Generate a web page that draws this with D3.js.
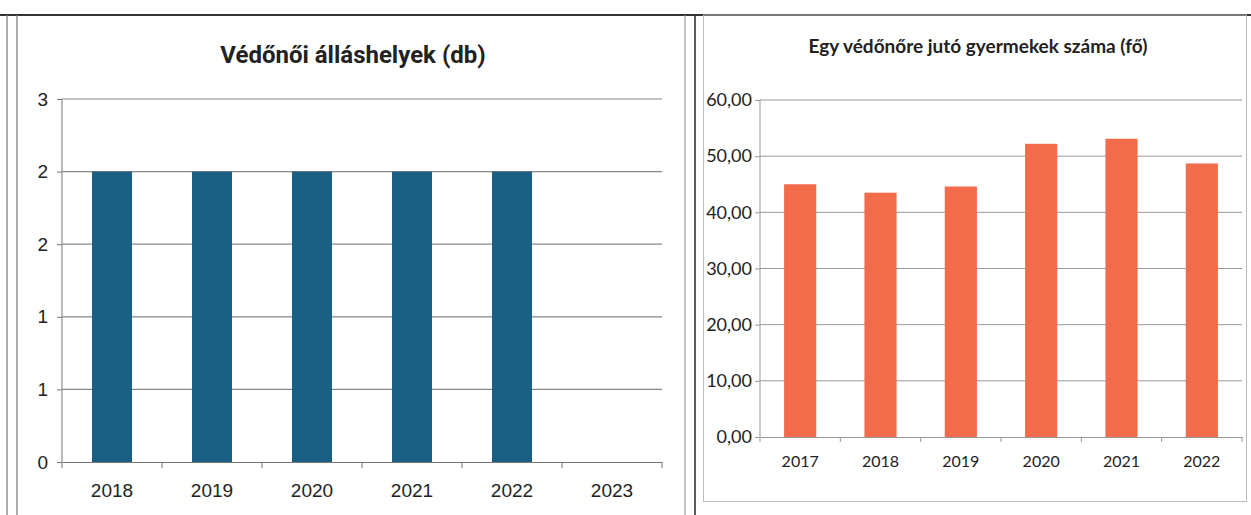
<!DOCTYPE html>
<html>
<head>
<meta charset="utf-8">
<script src="https://cdn.jsdelivr.net/npm/d3@7"></script>
<style>
  body { margin: 0; background: #fff; }
  svg { display: block; }
</style>
</head>
<body>
<div id="chart"></div>
<script>
// left chart data
const leftYears = ['2018', '2019', '2020', '2021', '2022', '2023'];
const leftValues = [2, 2, 2, 2, 2, null];
const leftTicks = [0, 0.5, 1, 1.5, 2, 2.5];
const leftTitle = 'Védőnői álláshelyek (db)';

// right chart data
const rightYears = ['2017', '2018', '2019', '2020', '2021', '2022'];
const rightValues = [45.0, 43.5, 44.6, 52.2, 53.1, 48.7];
const rightTicks = [0, 10, 20, 30, 40, 50, 60];
const rightTitle = 'Egy védőnőre jutó gyermekek száma (fő)';

const width = 1251;
const height = 515;
const leftBar = '#1a5f84';
const rightBar = '#f26b4b';
const leftFont = '"Liberation Sans", Arial, sans-serif';
const rightFont = 'Lato, "Open Sans", sans-serif';

const svg = d3.select('#chart')
  .append('svg')
    .attr('width', width)
    .attr('height', height);

// page frame lines
const frame = svg.append('g').attr('fill', 'none');
frame.append('line').attr('x1', 0).attr('x2', width).attr('y1', 15).attr('y2', 15)
  .attr('stroke', '#333').attr('stroke-width', 2);
frame.append('line').attr('x1', 7).attr('x2', 7).attr('y1', 15).attr('y2', height)
  .attr('stroke', '#777').attr('stroke-width', 1.2);
frame.append('line').attr('x1', 17).attr('x2', 17).attr('y1', 15).attr('y2', height)
  .attr('stroke', '#777').attr('stroke-width', 1.2);
frame.append('line').attr('x1', 685).attr('x2', 685).attr('y1', 15).attr('y2', height)
  .attr('stroke', '#888').attr('stroke-width', 1);
frame.append('line').attr('x1', 695).attr('x2', 695).attr('y1', 15).attr('y2', height)
  .attr('stroke', '#333').attr('stroke-width', 1.6);
frame.append('rect').attr('x', 703.5).attr('y', 15).attr('width', 543).attr('height', 486.5)
  .attr('stroke', '#bbb').attr('stroke-width', 1);

// ---------- left chart ----------
const lx = d3.scaleBand()
  .domain(leftYears)
  .range([62, 662])
  .paddingInner(0.6)
  .paddingOuter(0.3);

const ly = d3.scaleLinear()
  .domain([0, 2.5])
  .range([462, 99]);

const left = svg.append('g');

left.append('text')
  .attr('x', 353)
  .attr('y', 63)
  .attr('text-anchor', 'middle')
  .style('font-family', 'Roboto, sans-serif')
  .style('font-weight', 'bold')
  .style('font-size', '24px')
  .attr('fill', '#222')
  .text(leftTitle);

// gridlines + y axis
left.append('g')
  .attr('transform', 'translate(62,0)')
  .call(d3.axisLeft(ly).tickValues(leftTicks).tickSize(5).tickPadding(9)
    .tickFormat(d => Math.round(d)))
  .call(g => g.select('.domain').attr('stroke', '#777').attr('d', `M0,${ly(2.5)}V${ly(0)}`))
  .call(g => g.selectAll('.tick line').attr('stroke', '#777'))
  .call(g => g.selectAll('.tick text')
    .style('font-family', leftFont).style('font-size', '19px').attr('fill', '#222'));

left.append('g')
  .selectAll('line')
  .data(leftTicks.filter(d => d > 0))
  .join('line')
    .attr('x1', 62)
    .attr('x2', 662)
    .attr('y1', d => ly(d))
    .attr('y2', d => ly(d))
    .attr('stroke', '#888')
    .attr('stroke-width', 1.2);

left.append('g')
  .selectAll('rect')
  .data(leftYears.map((y, i) => ({year: y, value: leftValues[i]})).filter(d => d.value != null))
  .join('rect')
    .attr('x', d => lx(d.year))
    .attr('y', d => ly(d.value))
    .attr('width', lx.bandwidth())
    .attr('height', d => ly(0) - ly(d.value))
    .attr('fill', leftBar);

// x axis
const lxAxis = left.append('g').attr('transform', `translate(0,${ly(0)})`);
lxAxis.call(d3.axisBottom(lx).tickSize(0).tickPadding(22))
  .call(g => g.select('.domain').attr('stroke', '#777').attr('stroke-width', 1.2))
  .call(g => g.selectAll('.tick text')
    .style('font-family', leftFont).style('font-size', '19px').attr('fill', '#222'));
lxAxis.selectAll('.cat-tick')
  .data(leftYears.concat(['end']))
  .join('line')
    .attr('class', 'cat-tick')
    .attr('x1', (d, i) => lx.range()[0] + i * lx.step())
    .attr('x2', (d, i) => lx.range()[0] + i * lx.step())
    .attr('y1', 0)
    .attr('y2', 6)
    .attr('stroke', '#777');

// ---------- right chart ----------
const rx = d3.scaleBand()
  .domain(rightYears)
  .range([760, 1242])
  .paddingInner(0.6)
  .paddingOuter(0.3);

const ry = d3.scaleLinear()
  .domain([0, 60])
  .range([437, 100]);

const right = svg.append('g');

right.append('text')
  .attr('x', 978)
  .attr('y', 53)
  .attr('text-anchor', 'middle')
  .style('font-family', rightFont)
  .style('font-weight', 'bold')
  .style('font-size', '19px')
  .attr('fill', '#222')
  .text(rightTitle);

right.append('g')
  .attr('transform', 'translate(760,0)')
  .call(d3.axisLeft(ry).tickValues(rightTicks).tickSize(5).tickPadding(3)
    .tickFormat(d => d3.format('.2f')(d).replace('.', ',')))
  .call(g => g.select('.domain').attr('stroke', '#999').attr('d', `M0,${ry(60)}V${ry(0)}`))
  .call(g => g.selectAll('.tick line').attr('stroke', '#999'))
  .call(g => g.selectAll('.tick text')
    .style('font-family', rightFont).style('font-size', '18px').attr('fill', '#222'));

right.append('g')
  .selectAll('line')
  .data(rightTicks.filter(d => d > 0))
  .join('line')
    .attr('x1', 760)
    .attr('x2', 1242)
    .attr('y1', d => ry(d))
    .attr('y2', d => ry(d))
    .attr('stroke', '#999');

right.append('g')
  .selectAll('rect')
  .data(rightYears.map((y, i) => ({year: y, value: rightValues[i]})))
  .join('rect')
    .attr('x', d => rx(d.year))
    .attr('y', d => ry(d.value))
    .attr('width', rx.bandwidth())
    .attr('height', d => ry(0) - ry(d.value))
    .attr('fill', rightBar);

const rxAxis = right.append('g').attr('transform', `translate(0,${ry(0)})`);
rxAxis.call(d3.axisBottom(rx).tickSize(0).tickPadding(19))
  .call(g => g.select('.domain').attr('stroke', '#999'))
  .call(g => g.selectAll('.tick text')
    .style('font-family', rightFont).style('font-size', '16px').attr('fill', '#222'));
rxAxis.selectAll('.cat-tick')
  .data(rightYears.concat(['end']))
  .join('line')
    .attr('class', 'cat-tick')
    .attr('x1', (d, i) => rx.range()[0] + i * rx.step())
    .attr('x2', (d, i) => rx.range()[0] + i * rx.step())
    .attr('y1', 0)
    .attr('y2', 5)
    .attr('stroke', '#999');
</script>
</body>
</html>
